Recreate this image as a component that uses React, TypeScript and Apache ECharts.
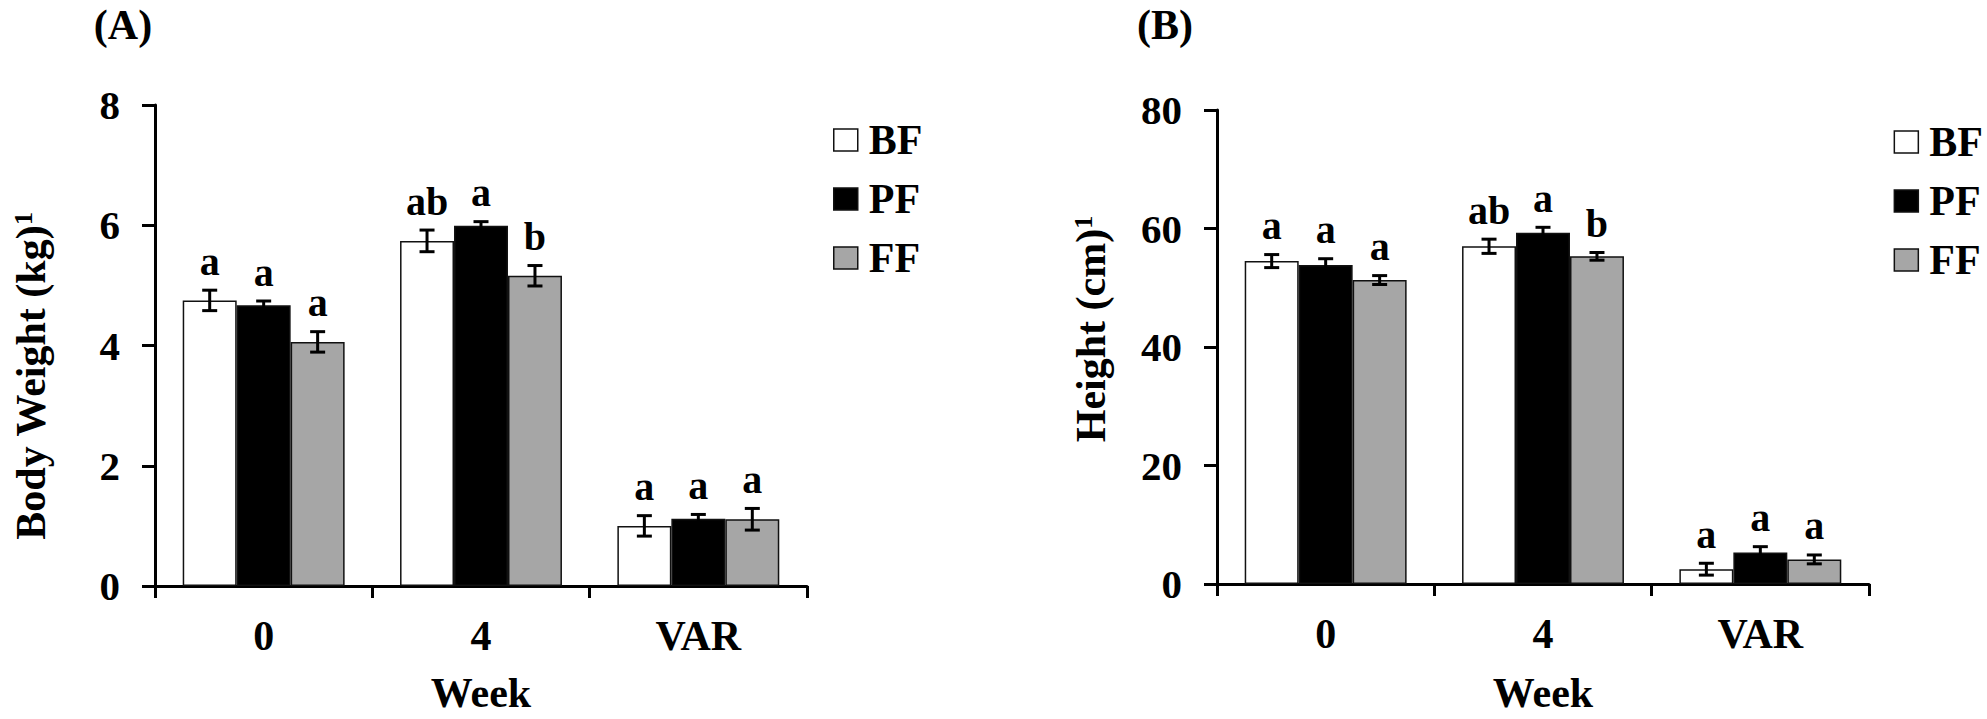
import React, { useEffect, useRef } from "react";
import * as echarts from "echarts";

// ---------- data ----------
const categories = ["0", "4", "VAR"];
const groups = ["BF", "PF", "FF"];
const groupColors = ["#ffffff", "#000000", "#a6a6a6"];

// Panel A: Body Weight (kg)
const weightBF = [4.75, 5.74, 1.0];
const weightPF = [4.67, 5.99, 1.12];
const weightFF = [4.06, 5.16, 1.11];
const weightErrBF = [0.17, 0.18, 0.17];
const weightErrPF = [0.07, 0.07, 0.07];
const weightErrFF = [0.17, 0.17, 0.18];
const weightLettersBF = ["a", "ab", "a"];
const weightLettersPF = ["a", "a", "a"];
const weightLettersFF = ["a", "b", "a"];

// Panel B: Height (cm)
const heightBF = [54.5, 57.0, 2.5];
const heightPF = [53.85, 59.3, 5.3];
const heightFF = [51.3, 55.3, 4.15];
const heightErrBF = [1.1, 1.2, 1.0];
const heightErrPF = [1.05, 0.9, 1.0];
const heightErrFF = [0.75, 0.65, 0.75];
const heightLettersBF = ["a", "ab", "a"];
const heightLettersPF = ["a", "a", "a"];
const heightLettersFF = ["a", "b", "a"];

const weightTicks = { min: 0, max: 8, interval: 2 };
const heightTicks = { min: 0, max: 80, interval: 20 };

const FONT = '"Liberation Serif", "Times New Roman", serif';
const CAT_GAP = 0.255;

type Panel = {
  values: number[][];
  errs: number[][];
  letters: string[][];
  ticks: { min: number; max: number; interval: number };
  grid: { left: number; top: number; width: number; height: number };
  legend: any;
};

const panels: Panel[] = [
  {
    values: [weightBF, weightPF, weightFF],
    errs: [weightErrBF, weightErrPF, weightErrFF],
    letters: [weightLettersBF, weightLettersPF, weightLettersFF],
    ticks: weightTicks,
    grid: { left: 155, top: 105, width: 652, height: 484 },
    legend: { left: 833, top: 119 },
  },
  {
    values: [heightBF, heightPF, heightFF],
    errs: [heightErrBF, heightErrPF, heightErrFF],
    letters: [heightLettersBF, heightLettersPF, heightLettersFF],
    ticks: heightTicks,
    grid: { left: 1217, top: 110, width: 652, height: 482 },
    legend: { right: 4, top: 121 },
  },
];

function buildOption() {
  const axisLineStyle = { color: "#000", width: 3 };
  const xAxis: any[] = [];
  const yAxis: any[] = [];
  const series: any[] = [];
  const legend: any[] = [];

  panels.forEach((p, pi) => {
    xAxis.push({
      type: "category",
      gridIndex: pi,
      data: categories,
      axisLine: { lineStyle: axisLineStyle },
      axisTick: { show: true, length: 12, lineStyle: axisLineStyle },
      axisLabel: {
        fontFamily: FONT,
        fontWeight: "bold",
        fontSize: 42,
        color: "#000",
        margin: 29,
      },
      name: "Week",
      nameLocation: "middle",
      nameGap: pi === 0 ? 86 : 88,
      nameTextStyle: {
        fontFamily: FONT,
        fontWeight: "bold",
        fontSize: 42,
        color: "#000",
      },
    });
    yAxis.push({
      type: "value",
      gridIndex: pi,
      min: p.ticks.min,
      max: p.ticks.max,
      interval: p.ticks.interval,
      splitLine: { show: false },
      axisLine: { show: true, lineStyle: axisLineStyle },
      axisTick: { show: true, length: 13, lineStyle: axisLineStyle },
      axisLabel: {
        fontFamily: FONT,
        fontWeight: "bold",
        fontSize: 41,
        color: "#000",
        margin: 35,
      },
    });

    groups.forEach((g, k) => {
      series.push({
        type: "bar",
        name: g,
        xAxisIndex: pi,
        yAxisIndex: pi,
        data: p.values[k],
        barGap: "0%",
        barCategoryGap: CAT_GAP * 100 + "%",
        itemStyle: { color: groupColors[k], borderColor: "#111", borderWidth: 1.5 },
        silent: true,
      });
    });

    const errData: number[][] = [];
    const letterList: string[] = [];
    groups.forEach((g, k) => {
      categories.forEach((c, ci) => {
        errData.push([ci, p.values[k][ci], p.errs[k][ci], k]);
        letterList.push(p.letters[k][ci]);
      });
    });

    series.push({
      type: "custom",
      xAxisIndex: pi,
      yAxisIndex: pi,
      data: errData,
      encode: { x: 0, y: 1 },
      z: 10,
      silent: true,
      clip: false,
      renderItem: (params: any, api: any) => {
        const ci = api.value(0);
        const v = api.value(1);
        const e = api.value(2);
        const k = api.value(3);
        const band = api.size([1, 0])[0];
        const bw = (band * (1 - CAT_GAP)) / 3;
        const cx = api.coord([ci, 0])[0] + (k - 1) * bw;
        const yTop = api.coord([ci, v + e])[1];
        const yBot = api.coord([ci, v - e])[1];
        const cap = 7.5;
        const ls = { stroke: "#000", lineWidth: 3 };
        return {
          type: "group",
          children: [
            { type: "line", shape: { x1: cx, y1: yTop, x2: cx, y2: yBot }, style: ls },
            { type: "line", shape: { x1: cx - cap, y1: yTop, x2: cx + cap, y2: yTop }, style: ls },
            { type: "line", shape: { x1: cx - cap, y1: yBot, x2: cx + cap, y2: yBot }, style: ls },
            {
              type: "text",
              style: {
                text: letterList[params.dataIndex],
                x: cx,
                y: yTop - 9,
                textAlign: "center",
                textVerticalAlign: "bottom",
                align: "center",
                verticalAlign: "bottom",
                font: `bold 40px ${FONT}`,
                fill: "#000",
              },
            },
          ],
        };
      },
    });

    legend.push({
      ...p.legend,
      orient: "vertical",
      padding: 0,
      itemWidth: 24,
      itemHeight: 22,
      itemGap: 17,
      icon: "rect",
      selectedMode: false,
      data: groups.map((g, k) => ({
        name: g,
        itemStyle: { color: groupColors[k], borderColor: "#111", borderWidth: 1.5 },
      })),
      textStyle: {
        fontFamily: FONT,
        fontWeight: "bold",
        fontSize: 42,
        color: "#000",
        padding: [0, 0, 0, 6],
      },
    });
  });

  const titleStyle = (text: string, x: number, y: number) => ({
    type: "text",
    x,
    y,
    style: {
      text,
      font: `bold 42px ${FONT}`,
      fill: "#000",
      textAlign: "center",
      textVerticalAlign: "middle",
      align: "center",
      verticalAlign: "middle",
    },
  });

  const yName = (main: string, x: number, y: number) => ({
    type: "text",
    x,
    y,
    rotation: Math.PI / 2,
    style: {
      text: `{m|${main}}{s|1}`,
      fill: "#000",
      textAlign: "center",
      textVerticalAlign: "middle",
      align: "center",
      verticalAlign: "middle",
      rich: {
        m: { fontFamily: FONT, fontWeight: "bold", fontSize: 42, fill: "#000", color: "#000" },
        s: {
          fontFamily: FONT,
          fontWeight: "bold",
          fontSize: 26,
          fill: "#000",
          color: "#000",
          verticalAlign: "top",
        },
      },
    },
  });

  return {
    animation: false,
    backgroundColor: "#ffffff",
    textStyle: { fontFamily: FONT },
    grid: panels.map((p) => ({ ...p.grid, containLabel: false })),
    xAxis,
    yAxis,
    legend,
    series,
    graphic: [
      titleStyle("(A)", 123, 25),
      titleStyle("(B)", 1165, 25),
      yName("Body Weight (kg)", 31, 376),
      yName("Height (cm)", 1091, 329),
    ],
  };
}

export default function App() {
  const ref = useRef<HTMLDivElement>(null);
  useEffect(() => {
    if (!ref.current) return;
    const chart = echarts.init(ref.current, undefined, { renderer: "svg" });
    chart.setOption(buildOption() as any);
    return () => chart.dispose();
  }, []);
  return (
    <div
      ref={ref}
      style={{ position: "fixed", left: 0, top: 0, width: 1987, height: 719, background: "#fff" }}
    />
  );
}
